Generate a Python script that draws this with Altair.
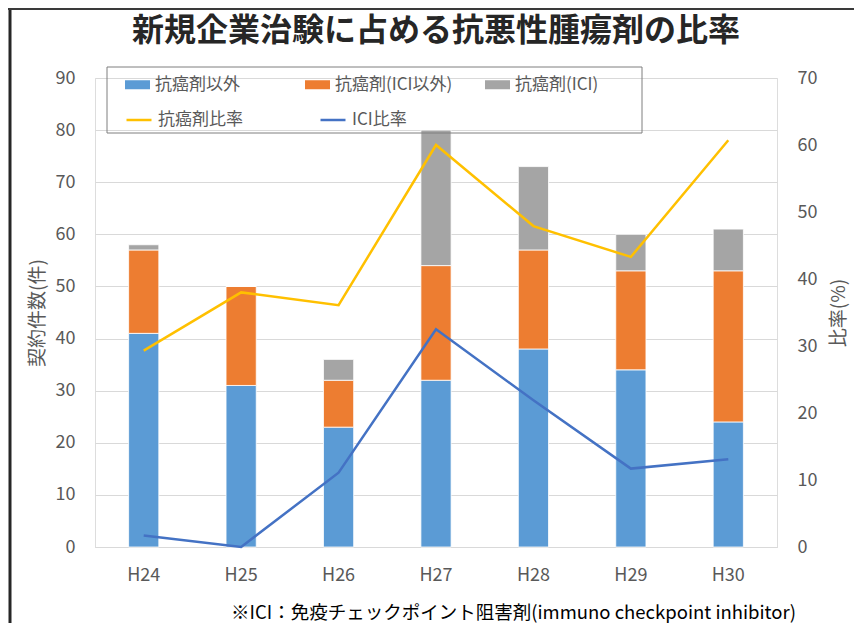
import altair as alt
import pandas as pd

JP = "Noto Sans CJK JP"

years = ["H24", "H25", "H26", "H27", "H28", "H29", "H30"]
non_cancer = [41, 31, 23, 32, 38, 34, 24]
cancer_non_ici = [16, 19, 9, 22, 19, 19, 29]
cancer_ici = [1, 0, 4, 26, 16, 7, 8]
cancer_ratio = [29.3, 38.0, 36.1, 60.0, 47.9, 43.3, 60.7]
ici_ratio = [1.7, 0.0, 11.1, 32.5, 21.9, 11.7, 13.1]

bar_series = ["抗癌剤以外", "抗癌剤(ICI以外)", "抗癌剤(ICI)"]
bar_colors = ["#5B9BD5", "#ED7D31", "#A5A5A5"]
line_series = ["抗癌剤比率", "ICI比率"]
line_colors = ["#FFC000", "#4472C4"]

title_text = "新規企業治験に占める抗悪性腫瘍剤の比率"
note_text = "※ICI：免疫チェックポイント阻害剤(immuno checkpoint inhibitor)"

bar_rows = []
for i, y in enumerate(years):
    for k, (name, vals) in enumerate(zip(bar_series, [non_cancer, cancer_non_ici, cancer_ici])):
        bar_rows.append({"年": y, "系列": name, "件数": vals[i], "idx": k})
bar_df = pd.DataFrame(bar_rows)

line_rows = []
for i, y in enumerate(years):
    for name, vals in zip(line_series, [cancer_ratio, ici_ratio]):
        line_rows.append({"年": y, "系列": name, "比率": vals[i]})
line_df = pd.DataFrame(line_rows)

GRAY = "#595959"

x_enc = alt.X(
    "年:N", sort=years,
    scale=alt.Scale(paddingInner=0.69, paddingOuter=0.345),
    axis=alt.Axis(
        title=note_text, titleFont=JP, titleFontSize=18.5, titleFontWeight="normal",
        titleColor="#000000", titleX=418, titleY=65, titleBaseline="middle",
        labelFont=JP, labelFontSize=18, labelColor=GRAY, labelAngle=0, labelPadding=19,
        ticks=False, domainColor="#D9D9D9", domainWidth=1, grid=False,
    ),
)

bars = alt.Chart(bar_df).mark_bar(stroke="white", strokeWidth=0.8).encode(
    x=x_enc,
    y=alt.Y(
        "件数:Q", stack="zero", scale=alt.Scale(domain=[0, 90], nice=False),
        axis=alt.Axis(
            values=list(range(0, 91, 10)), title="契約件数(件)", titleFont=JP,
            titleFontSize=19, titleFontWeight="normal", titleColor=GRAY, titlePadding=8,
            labelFont=JP, labelFontSize=18, labelColor=GRAY, labelPadding=20,
            ticks=False, domain=False, grid=True, gridColor="#D9D9D9", gridWidth=1,
        ),
    ),
    fill=alt.Fill(
        "系列:N", scale=alt.Scale(domain=bar_series, range=bar_colors),
        legend=alt.Legend(
            title=None, orient="none", legendX=30, legendY=-6, direction="horizontal",
            columns=3, gridAlign="all", columnPadding=32, padding=0,
            symbolType="M-1,-0.36H1V0.36H-1Z", symbolSize=625, symbolStrokeWidth=0,
            labelFont=JP, labelFontSize=17, labelColor=GRAY, labelOffset=5, labelLimit=300,
        ),
    ),
    order=alt.Order("idx:Q", sort="ascending"),
)

lines = alt.Chart(line_df).mark_line(strokeWidth=2.5).encode(
    x=alt.X("年:N", sort=years),
    y=alt.Y(
        "比率:Q", scale=alt.Scale(domain=[0, 70], nice=False),
        axis=alt.Axis(
            orient="right", values=list(range(0, 71, 10)), title="比率(%)", titleFont=JP,
            titleFontSize=19, titleFontWeight="normal", titleColor=GRAY, titleAngle=270,
            titlePadding=32, labelFont=JP, labelFontSize=18, labelColor=GRAY,
            labelPadding=20, ticks=False, domain=False, grid=False,
        ),
    ),
    stroke=alt.Stroke(
        "系列:N", scale=alt.Scale(domain=line_series, range=line_colors),
        legend=alt.Legend(
            title=None, orient="none", legendX=30, legendY=28, direction="horizontal",
            columns=2, gridAlign="all", columnPadding=72, padding=0,
            symbolType="stroke", symbolSize=625, symbolStrokeWidth=2.5,
            labelFont=JP, labelFontSize=17, labelColor=GRAY, labelOffset=5, labelLimit=300,
        ),
    ),
)

one = pd.DataFrame({"k": [0]})
frame = alt.Chart(one).mark_rect(filled=False, stroke="#7F7F7F", strokeWidth=1).encode(
    x=alt.value(12), x2=alt.value(547), y=alt.value(-11), y2=alt.value(55)
)
left_border = alt.Chart(one).mark_rule(color="#262626", strokeWidth=3).encode(
    x=alt.value(-85), y=alt.value(-70), y2=alt.value(545)
)
top_border = alt.Chart(one).mark_rule(color="#3A3A3A", strokeWidth=2).encode(
    x=alt.value(-87), x2=alt.value(759), y=alt.value(-69)
)

chart = (
    alt.layer(bars, lines, frame, left_border, top_border)
    .resolve_scale(y="independent", fill="independent", stroke="independent")
    .properties(
        width=682, height=469,
        title=alt.TitleParams(
            title_text, font=JP, fontSize=32, fontWeight="bold", color="#262626",
            anchor="middle", offset=-41,
        ),
        autosize=alt.AutoSizeParams(type="none"),
        padding={"left": 87, "top": 70, "right": 77, "bottom": 76},
    )
    .configure_view(stroke=None)
    .configure(background="white")
)

chart.save("out.html", embed_options={"renderer": "svg", "actions": False})
